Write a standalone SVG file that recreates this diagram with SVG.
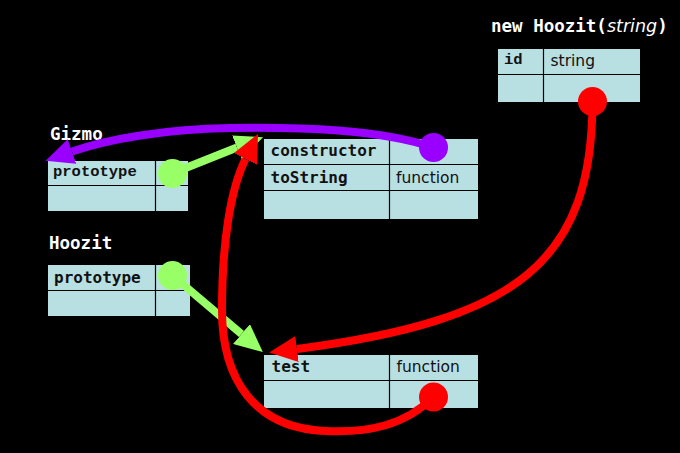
<svg xmlns="http://www.w3.org/2000/svg" width="680" height="453" viewBox="0 0 680 453">
<style>
.bg{fill:#000}
.tbl{fill:#b8dfe2}
.ln{stroke:#000;stroke-width:1.2;fill:none}
.title{font-family:"DejaVu Sans Mono",monospace;font-weight:bold;font-size:17.5px;fill:#fff}
.mono{font-family:"DejaVu Sans Mono",monospace;font-weight:bold;font-size:16px;fill:#111}
.cour{font-family:"Liberation Mono","Courier New",monospace;font-weight:bold;font-size:15.5px;fill:#111}
.sans{font-family:"DejaVu Sans",sans-serif;font-size:15.5px;fill:#111}
.g{stroke:#99ff66;stroke-width:8;fill:none}
.p{stroke:#9900ff;stroke-width:8;fill:none}
.r{stroke:#ff0000;stroke-width:8;fill:none}
</style>
<defs>
<marker id="ag" viewBox="0 0 28 26" refX="0" refY="13" markerWidth="28" markerHeight="26" markerUnits="userSpaceOnUse" orient="auto"><path d="M0,0 L28,13 L0,26 z" fill="#99ff66"/></marker>
<marker id="ap" viewBox="0 0 28 26" refX="0" refY="13" markerWidth="28" markerHeight="26" markerUnits="userSpaceOnUse" orient="auto"><path d="M0,0 L28,13 L0,26 z" fill="#9900ff"/></marker>
<marker id="ar" viewBox="0 0 28 26" refX="0" refY="13" markerWidth="28" markerHeight="26" markerUnits="userSpaceOnUse" orient="auto"><path d="M0,0 L28,13 L0,26 z" fill="#ff0000"/></marker>
</defs>
<rect class="bg" x="0" y="0" width="680" height="453"/>

<g id="newHoozit">
<text class="title" x="491" y="32">new Hoozit(<tspan style="font-family:'DejaVu Sans',sans-serif;font-style:italic;font-weight:normal">string</tspan>)</text>
<rect class="tbl" x="498" y="49" width="142" height="53"/>
<path class="ln" d="M543.5,49 V102 M498,74.5 H640"/>
<text class="cour" x="504" y="63.5">id</text>
<text class="sans" x="550.5" y="66">string</text>
</g>

<g id="gizmo">
<text class="title" x="50" y="140">Gizmo</text>
<rect class="tbl" x="48" y="161" width="140" height="50"/>
<path class="ln" d="M155.5,161 V211 M48,185.5 H188"/>
<text class="cour" x="53" y="176">prototype</text>
</g>

<g id="gizmoProto">
<rect class="tbl" x="264" y="139" width="214" height="80"/>
<path class="ln" d="M389.5,139 V219 M264,164.5 H478 M264,190.5 H478"/>
<text class="mono" x="270.5" y="156">constructor</text>
<text class="mono" x="270.5" y="182.5">toString</text>
<text class="sans" x="396" y="182.5">function</text>
</g>

<g id="hoozit">
<text class="title" x="49" y="249">Hoozit</text>
<rect class="tbl" x="48" y="265" width="142" height="51"/>
<path class="ln" d="M155.5,265 V316 M48,290.5 H190"/>
<text class="mono" x="54" y="282.5">prototype</text>
</g>

<g id="hoozitProto">
<rect class="tbl" x="264" y="355" width="214" height="53"/>
<path class="ln" d="M389.5,355 V408 M264,380.5 H478"/>
<text class="mono" x="271.5" y="372">test</text>
<text class="sans" x="396.5" y="372">function</text>
</g>

<g id="connectors">
<path class="g" d="M173,173 L237,147.5" marker-end="url(#ag)"/>
<circle cx="172.5" cy="173.5" r="14.5" fill="#99ff66"/>
<path class="g" d="M172.5,275.5 L241.5,334" marker-end="url(#ag)"/>
<circle cx="172.5" cy="275.5" r="14.5" fill="#99ff66"/>
<path class="p" d="M433.5,147.5 C380,129 300,127 230,128 C165,129 108,139 72,151.5" marker-end="url(#ap)"/>
<circle cx="433.5" cy="147.5" r="14.5" fill="#9900ff"/>
<path class="r" d="M592.5,101.5 C592,260 520,320 297,349" marker-end="url(#ar)"/>
<circle cx="592.5" cy="101.5" r="14.5" fill="#ff0000"/>
<path class="r" d="M433.5,397 C405,425 370,433 325,431 C255,428 222,380 222,310 C222,245 230,190 245.5,159" marker-end="url(#ar)"/>
<circle cx="433.5" cy="397" r="14.5" fill="#ff0000"/>
</g>
</svg>
